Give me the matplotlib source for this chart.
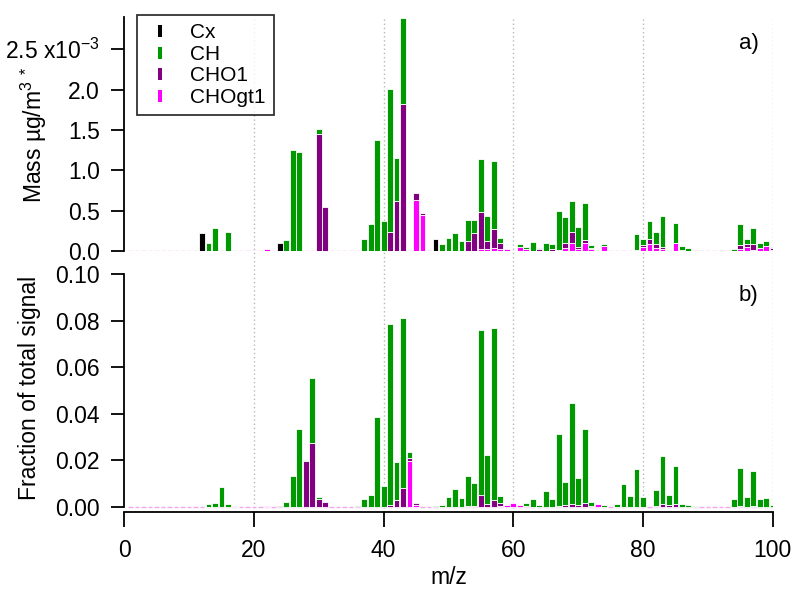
import numpy as np
import matplotlib
matplotlib.use("Agg")
import matplotlib.pyplot as plt
from matplotlib.lines import Line2D

plt.rcParams["font.family"] = ["Liberation Sans", "DejaVu Sans"]
plt.rcParams["mathtext.fontset"] = "custom"
plt.rcParams["mathtext.rm"] = "Liberation Sans"
plt.rcParams["mathtext.it"] = "Liberation Sans"

# panel a) mass (x10^-3 ug/m3)
top_mz = [12, 13, 14, 16, 17, 22, 24, 25, 26, 27, 30, 31, 37, 38, 39, 40, 41, 42, 43,
          45, 46, 47, 48, 49, 50, 51, 52, 53, 54, 55, 56, 57, 58, 59, 61, 62, 63, 64,
          65, 66, 67, 68, 69, 70, 71, 72, 74, 79, 80, 81, 82, 83, 85, 86, 87, 88, 94,
          95, 96, 97, 98, 99, 100]
top_cx = [0.22, 0, 0, 0, 0, 0, 0.10, 0, 0, 0, 0, 0, 0, 0, 0, 0, 0, 0, 0,
          0, 0, 0, 0.145, 0, 0, 0, 0, 0, 0, 0, 0, 0, 0, 0, 0, 0, 0, 0,
          0, 0, 0, 0, 0, 0, 0, 0, 0, 0, 0, 0, 0, 0, 0, 0, 0, 0, 0,
          0, 0, 0, 0, 0, 0]
top_ch = [0, 0.095, 0.29, 0.23, 0.005, 0, 0, 0.14, 1.25, 1.225, 0.055, 0, 0.15, 0.33, 1.38, 0.375, 1.775, 0.535, 1.07,
          0, 0, 0, 0, 0.083, 0.157, 0.227, 0.12, 0.26, 0.17, 0.65, 0.31, 0.84, 0.065, 0, 0.04, 0.033, 0.115, 0.01,
          0.095, 0.063, 0.485, 0.325, 0.385, 0.255, 0.46, 0.03, 0.028, 0.20, 0.071, 0.219, 0.143, 0.384, 0.248, 0.056, 0.04, 0, 0.03,
          0.26, 0.069, 0.197, 0.067, 0.058, 0.02]
top_cho1 = [0, 0, 0, 0, 0, 0, 0, 0, 0, 0, 1.455, 0.54, 0, 0, 0, 0, 0.23, 0.615, 1.82,
            0.09, 0.02, 0, 0, 0, 0, 0, 0, 0.13, 0.22, 0.465, 0.10, 0.245, 0.075, 0, 0, 0, 0, 0.025,
            0, 0.02, 0.01, 0.06, 0.135, 0.025, 0.04, 0.02, 0, 0.01, 0.021, 0.065, 0.054, 0.033, 0, 0.01, 0, 0.01, 0,
            0.054, 0.033, 0.07, 0, 0, 0.02]
top_chogt1 = [0, 0, 0, 0, 0, 0.03, 0, 0, 0, 0, 0, 0, 0, 0, 0, 0, 0, 0, 0,
              0.63, 0.445, 0.005, 0, 0, 0, 0, 0, 0, 0, 0.02, 0.02, 0.033, 0.02, 0.025, 0.05, 0.02, 0, 0,
              0, 0, 0, 0.04, 0.10, 0.02, 0.10, 0.02, 0.062, 0, 0.053, 0.083, 0.033, 0.02, 0.095, 0, 0, 0, 0,
              0.02, 0.05, 0.013, 0.033, 0.062, 0.013]

# panel b) fraction of total signal
bot_mz = [13, 14, 15, 16, 17, 22, 24, 25, 26, 27, 28, 29, 30, 31, 36, 37, 38, 39, 40,
          41, 42, 43, 44, 45, 48, 49, 50, 51, 52, 53, 54, 55, 56, 57, 58, 59, 60, 61,
          62, 63, 64, 65, 66, 67, 68, 69, 70, 71, 72, 73, 74, 76, 77, 78, 79, 80, 82,
          83, 84, 85, 86, 87, 88, 94, 95, 96, 97, 98, 99, 100]
bot_cx = [0, 0, 0, 0, 0, 0, 0.0005, 0, 0, 0, 0, 0, 0, 0, 0.0005, 0, 0, 0, 0,
          0, 0, 0, 0, 0, 0.0003, 0, 0, 0, 0, 0, 0, 0, 0, 0, 0, 0, 0, 0,
          0, 0, 0, 0, 0, 0, 0, 0, 0, 0, 0, 0, 0, 0, 0, 0, 0, 0, 0,
          0, 0, 0, 0, 0, 0, 0, 0, 0, 0, 0, 0, 0]
bot_ch = [0.0013, 0.0017, 0.0087, 0.0013, 0, 0, 0, 0.0021, 0.0131, 0.0333, 0.0007, 0.0281, 0.0008, 0, 0, 0.0033, 0.0053, 0.0388, 0.009,
          0.0778, 0.0164, 0.073, 0.0025, 0, 0, 0.0009, 0.0044, 0.0079, 0.004, 0.0127, 0.0098, 0.0705, 0.0212, 0.0738, 0.0031, 0, 0, 0,
          0.0012, 0.0033, 0.001, 0.0069, 0.0033, 0.0308, 0.0100, 0.0432, 0.0117, 0.0316, 0.0018, 0, 0.0009, 0.0013, 0.0099, 0.0047, 0.0165, 0.0044, 0.0068,
          0.0203, 0.0042, 0.0162, 0.0014, 0.0007, 0.0003, 0.0033, 0.016, 0.0044, 0.0149, 0.0033, 0.0037, 0.0007]
bot_cho1 = [0, 0, 0, 0, 0, 0, 0, 0, 0, 0, 0.0196, 0.0273, 0.0034, 0.0021, 0, 0, 0, 0, 0,
            0.0009, 0.0029, 0.0083, 0.0015, 0.0008, 0, 0, 0, 0, 0, 0.0004, 0.0005, 0.0053, 0.0013, 0.0029, 0.0010, 0, 0, 0,
            0, 0, 0, 0, 0, 0.0005, 0.0007, 0.0013, 0.0007, 0.0019, 0.0005, 0, 0, 0, 0, 0, 0, 0, 0.0005,
            0.0014, 0.001, 0.0013, 0, 0, 0, 0, 0.0006, 0, 0.0006, 0, 0, 0]
bot_chogt1 = [0, 0, 0, 0, 0.0002, 0.0003, 0, 0, 0, 0, 0, 0, 0, 0, 0, 0, 0, 0, 0,
              0, 0, 0, 0.0197, 0.0008, 0, 0, 0, 0, 0, 0, 0, 0, 0, 0, 0.0006, 0.0007, 0.0019, 0.001,
              0.0004, 0, 0, 0, 0, 0, 0, 0, 0, 0, 0, 0.0011, 0, 0, 0, 0, 0, 0, 0,
              0, 0, 0, 0, 0, 0, 0, 0, 0, 0, 0, 0, 0]

names = ["Cx", "CH", "CHO1", "CHOgt1"]
colors = ["#000000", "#009900", "#800080", "#ff00ff"]

W, H = 795, 589
fig = plt.figure(figsize=(W / 100, H / 100), dpi=100)

left = 124.2 / W
width = (772.7 - 124.2) / W

# background axes with the dotted vertical grid spanning both panels
bg = fig.add_axes([left, 1 - 512 / H, width, (512 - 17) / H])
bg.set_xlim(0, 100)
bg.set_ylim(0, 1)
bg.axis("off")
for g in [20, 40, 60, 80, 100]:
    bg.axvline(g, color="#b8b8b8", lw=1.0, ls=(0, (1, 2)))

ax1 = fig.add_axes([left, 1 - 251 / H, width, 234 / H])
ax2 = fig.add_axes([left, 1 - 512 / H, width, 238 / H])
for ax in (ax1, ax2):
    ax.patch.set_visible(False)


def draw(ax, mz, cx, ch, cho1, chogt1):
    mz = np.array(mz)
    base = np.zeros(len(mz))
    allmz = np.arange(1, 101)
    ax.hlines(np.zeros(len(allmz)), allmz - 0.35, allmz + 0.35,
              color="#f2a8ea", lw=1.0, zorder=1)
    for vals, c in zip([chogt1, cho1, ch, cx], colors[::-1]):
        vals = np.array(vals)
        m = vals > 0
        ax.bar(mz[m], vals[m], bottom=base[m], width=0.9, color=c,
               edgecolor="white", linewidth=0.6, zorder=2)
        base = base + vals


draw(ax1, top_mz, top_cx, top_ch, top_cho1, top_chogt1)
draw(ax2, bot_mz, bot_cx, bot_ch, bot_cho1, bot_chogt1)

for ax in (ax1, ax2):
    ax.set_xlim(0, 100)
    ax.spines["top"].set_visible(False)
    ax.spines["right"].set_visible(False)
    for s in ax.spines.values():
        s.set_linewidth(1.3)
    ax.tick_params(axis="y", direction="out", length=9.5, width=1.3, pad=8, labelsize=16.5)

ax1.set_ylim(0, 2.9)
ax1.spines["bottom"].set_visible(False)
ax1.tick_params(axis="x", bottom=False, labelbottom=False)
ax1.set_yticks([0, 0.5, 1.0, 1.5, 2.0, 2.5])
ax1.set_yticklabels(["0.0", "0.5", "1.0", "1.5", "2.0", r"2.5 x10$^{-3}$"])
ax1.set_ylabel(r"Mass µg/m$^{3}$ $^{*}$", fontsize=16.5)
ax1.yaxis.set_label_coords(-0.116, 0.496)
ax1.text(0.963, 0.885, "a)", transform=ax1.transAxes, ha="center", va="center", fontsize=16)

ax2.set_ylim(-0.00215, 0.10)
ax2.spines["left"].set_bounds(0, 0.10)
ax2.set_yticks([0, 0.02, 0.04, 0.06, 0.08, 0.10])
ax2.set_yticklabels(["0.00", "0.02", "0.04", "0.06", "0.08", "0.10"])
ax2.set_xticks([0, 20, 40, 60, 80, 100])
ax2.tick_params(axis="x", direction="out", length=10.5, width=1.3, pad=9, labelsize=16.5)
ax2.set_xlabel("m/z", fontsize=16.5, labelpad=3)
ax2.set_ylabel("Fraction of total signal", fontsize=16.5)
ax2.yaxis.set_label_coords(-0.128, 0.521)
ax2.text(0.963, 0.908, "b)", transform=ax2.transAxes, ha="center", va="center", fontsize=16)

handles = [Line2D([], [], ls="none", marker=[(-1, -3), (1, -3), (1, 3), (-1, 3)],
                  markersize=8.6, markerfacecolor=c, markeredgewidth=0) for c in colors]
leg = ax1.legend(handles, names, loc="upper left", bbox_to_anchor=(137 / W, 1 - 15 / H),
                 bbox_transform=fig.transFigure, fontsize=15, frameon=True, fancybox=False,
                 borderpad=0.4, borderaxespad=0, handlelength=1.4, handletextpad=0.75,
                 labelspacing=0.12)
leg.get_frame().set_edgecolor("black")
leg.get_frame().set_linewidth(1.3)
leg.set_zorder(5)

fig.savefig("out.png", dpi=100)
